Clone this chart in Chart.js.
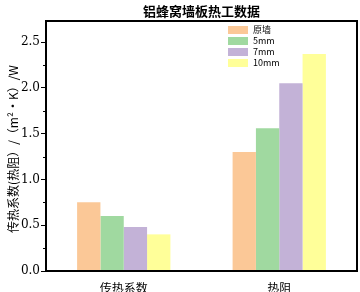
<!DOCTYPE html>
<html>
<head>
<meta charset="utf-8">
<script src="https://cdn.jsdelivr.net/npm/chart.js@4"></script>
<style>
  html, body { margin: 0; padding: 0; background: #fff; }
  #wrap { width: 360px; height: 292px; }
</style>
</head>
<body>
<div id="wrap"><canvas id="chart" width="360" height="292"></canvas></div>
<script>
'use strict';

// data
const categories = ['传热系数', '热阻'];
const seriesNames = ['原墙', '5mm', '7mm', '10mm'];
const yuanqiang = [0.75, 1.30];
const mm5 = [0.60, 1.56];
const mm7 = [0.48, 2.05];
const mm10 = [0.40, 2.37];
const yTicks = [0, 0.5, 1.0, 1.5, 2.0, 2.5];
const colors = ['#fbc897', '#a0d9a0', '#c3b2d7', '#ffff99'];

const cjk = '"Noto Sans CJK SC", sans-serif';
const num = '"DejaVu Serif", serif';

// frame, minor ticks, titles, legend
const extras = {
  id: 'extras',
  afterDraw(chart) {
    const ctx = chart.ctx;
    const a = chart.chartArea;
    const y = chart.scales.y;
    ctx.save();
    ctx.strokeStyle = '#000';
    ctx.lineWidth = 1;
    for (let i = 0; i < yTicks.length - 1; i++) {
      const py = Math.round(y.getPixelForValue((yTicks[i] + yTicks[i + 1]) / 2)) + 0.5;
      ctx.beginPath();
      ctx.moveTo(a.left - 3, py);
      ctx.lineTo(a.left, py);
      ctx.stroke();
    }
    ctx.lineWidth = 2;
    ctx.strokeRect(a.left, a.top, a.right - a.left, a.bottom - a.top);

    ctx.fillStyle = '#000';
    ctx.font = 'bold 13px ' + cjk;
    ctx.textAlign = 'center';
    ctx.textBaseline = 'middle';
    ctx.fillText('铝蜂窝墙板热工数据', (a.left + a.right) / 2, 11);

    // y axis title
    ctx.save();
    ctx.translate(13, 149);
    ctx.rotate(-Math.PI / 2);
    ctx.font = '12px ' + cjk;
    ctx.fillText('传热系数(热阻）/（m²·K）/W', 0, 0);
    ctx.restore();

    // legend
    ctx.textAlign = 'left';
    ctx.font = '9px ' + cjk;
    chart.data.datasets.forEach((ds, i) => {
      const cy = 30 + i * 11;
      ctx.fillStyle = ds.backgroundColor;
      ctx.fillRect(228, cy - 4, 20, 8);
      ctx.fillStyle = '#000';
      ctx.fillText(ds.label, 253, cy);
    });
    ctx.restore();
  }
};

const datasets = [yuanqiang, mm5, mm7, mm10].map((vals, i) => ({
  label: seriesNames[i],
  data: vals,
  backgroundColor: colors[i],
  borderWidth: 0,
  barPercentage: 1.0,
  categoryPercentage: 0.6
}));

new Chart(document.getElementById('chart'), {
  type: 'bar',
  data: { labels: categories, datasets: datasets },
  options: {
    responsive: false,
    animation: false,
    layout: { padding: { top: 21, right: 3, left: 0, bottom: 0 } },
    plugins: { legend: { display: false }, title: { display: false }, tooltip: { enabled: false } },
    scales: {
      x: {
        grid: { display: false },
        border: { display: false },
        ticks: { color: '#000', font: { family: cjk, size: 12 }, padding: 2 },
        afterFit(s) { s.height = 21; }
      },
      y: {
        min: 0,
        max: 2.73,
        afterBuildTicks(s) { s.ticks = yTicks.map(v => ({ value: v })); },
        grid: { drawOnChartArea: false, tickLength: 5, color: '#000', lineWidth: 1 },
        border: { display: false },
        ticks: {
          color: '#000',
          font: { family: num, size: 12 },
          padding: 1,
          callback: v => v.toFixed(1)
        },
        afterFit(s) { s.width = 46; }
      }
    }
  },
  plugins: [extras]
});
</script>
</body>
</html>
